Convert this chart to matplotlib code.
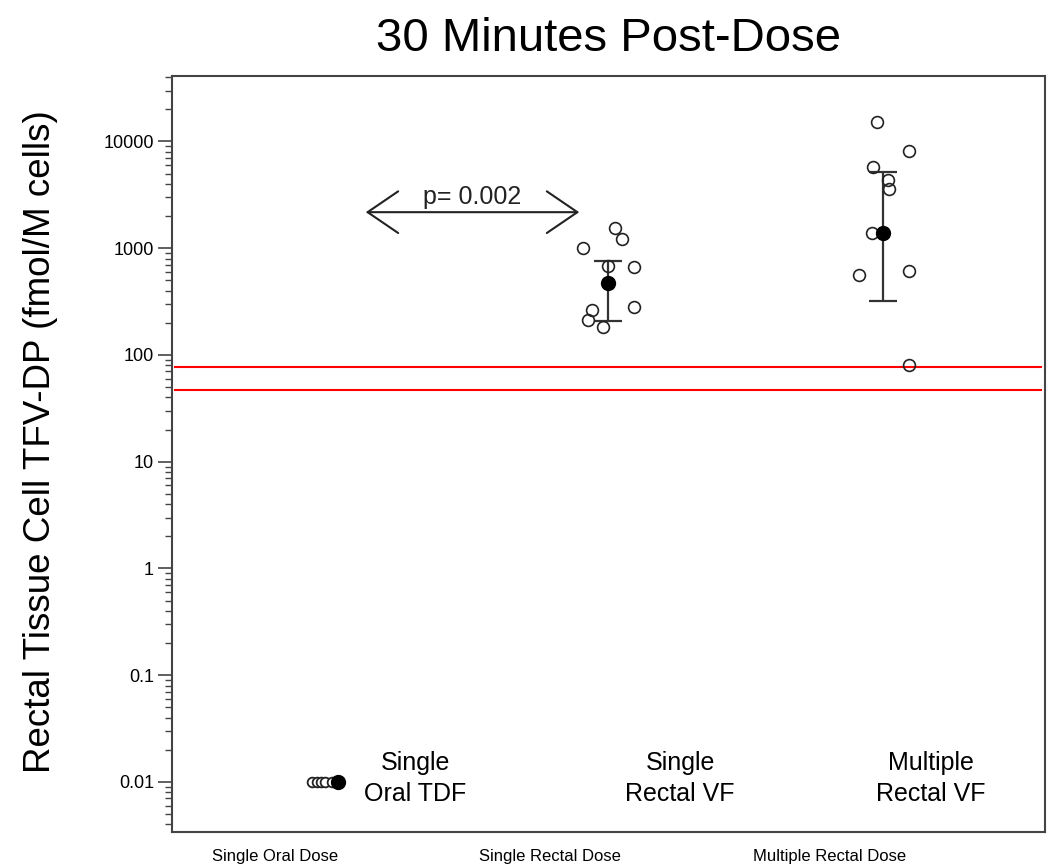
import matplotlib
matplotlib.use('Agg')
import matplotlib.pyplot as plt
import numpy as np

plt.rcParams['font.family'] = ['Liberation Sans', 'DejaVu Sans']

# group centres and tick labels
group_x = [1, 2, 2.972]
tick_pos = [0.823, 1.795, 2.784]
tick_labels = ["Single Oral Dose", "Single Rectal Dose", "Multiple Rectal Dose"]
group_notes = ["Single\nOral TDF", "Single\nRectal VF", "Multiple\nRectal VF"]
note_x = [1.32, 2.255, 3.14]

# individual values (fmol/M cells) and their horizontal jitter
oral_vals = [0.01, 0.01, 0.01, 0.01, 0.01]
oral_dx = [-0.046, -0.03, -0.015, 0.0, 0.025]
single_vals = [1540, 1215, 1000, 679, 664, 280, 262, 211, 182]
single_dx = [0.025, 0.049, -0.088, 0.0, 0.092, 0.092, -0.057, -0.071, -0.018]
multi_vals = [15100, 8060, 5710, 4400, 3580, 1380, 609, 558, 80.6]
multi_dx = [-0.021, 0.092, -0.035, 0.018, 0.021, -0.039, 0.092, -0.085, 0.092]

# summary: centre value and error bar limits
mean_vals = [0.01, 470, 1380]
mean_dx = [0.046, 0.0, 0.0]
err_lo = [None, 207, 318]
err_hi = [None, 755, 5120]

# limit lines
red_levels = [77, 47]

fig = plt.figure(figsize=(10.48, 8.68), dpi=100)
ax = fig.add_axes([0.1641, 0.0415, 0.833, 0.8709])
ax.set_yscale('log')
ax.set_xlim(0.459, 3.544)
ax.set_ylim(0.0034, 41000)

for lvl in red_levels:
    ax.axhline(lvl, xmin=0.004, xmax=0.995, color='red', lw=1.5, zorder=1)

# error bars
for i in range(1, 3):
    ax.errorbar(group_x[i], mean_vals[i],
                yerr=[[mean_vals[i] - err_lo[i]], [err_hi[i] - mean_vals[i]]],
                fmt='none', ecolor='#333333', elinewidth=1.6, capsize=10, capthick=1.6, zorder=2)

# individual points
ax.plot(np.array(oral_dx) + group_x[0], oral_vals, 'o', ms=7, mfc='white', mec='#222222', mew=1.3, zorder=3)
ax.plot(np.array(single_dx) + group_x[1], single_vals, 'o', ms=8.5, mfc='none', mec='#222222', mew=1.2, zorder=3)
ax.plot(np.array(multi_dx) + group_x[2], multi_vals, 'o', ms=8.5, mfc='none', mec='#222222', mew=1.2, zorder=3)

# centre values
ax.plot(np.array(mean_dx) + np.array(group_x), mean_vals, 'o', ms=10, color='black', zorder=4, ls='none')

# p-value arrow between single oral and single rectal
ax.annotate('', xy=(1.134, 2175), xytext=(1.908, 2175),
            arrowprops=dict(arrowstyle='<->,head_length=1.1,head_width=0.75',
                            mutation_scale=20, color='#222222', lw=1.5))
ax.text(1.52, 3050, 'p= 0.002', ha='center', va='center', fontsize=18, color='#222222')

for x, s in zip(note_x, group_notes):
    ax.text(x, 0.0108, s, ha='center', va='center', fontsize=18, linespacing=1.35)

ax.set_xticks(tick_pos)
ax.set_xticklabels(tick_labels, fontsize=12)
ax.tick_params(axis='x', length=0, pad=12)

ax.set_yticks([0.01, 0.1, 1, 10, 100, 1000, 10000])
ax.set_yticklabels(['0.01', '0.1', '1', '10', '100', '1000', '10000'], fontsize=13)
ax.tick_params(axis='y', which='major', direction='out', length=10, width=1.2, color='#444444', pad=3)
ax.tick_params(axis='y', which='minor', direction='out', length=5, width=1.0, color='#444444')

for sp in ax.spines.values():
    sp.set_color('#444444')
    sp.set_linewidth(1.5)

ax.set_ylabel('Rectal Tissue Cell TFV-DP (fmol/M cells)', fontsize=26.5)
ax.yaxis.set_label_coords(-0.131, 0.517)
ax.set_title('30 Minutes Post-Dose', fontsize=34, pad=18)

fig.savefig('out.png', dpi=100)
